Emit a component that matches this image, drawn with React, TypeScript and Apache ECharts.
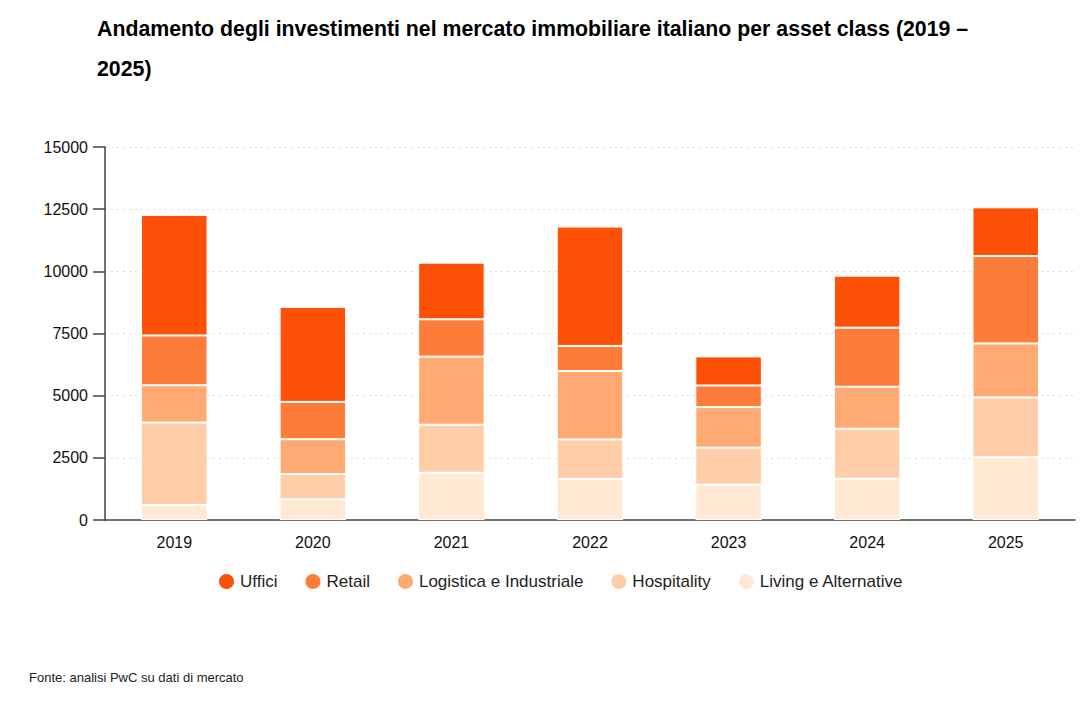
import React, { useEffect, useRef } from "react";
import * as echarts from "echarts";

const years = ["2019", "2020", "2021", "2022", "2023", "2024", "2025"];
const seriesNames = ["Uffici", "Retail", "Logistica e Industriale", "Hospitality", "Living e Alternative"];
const living = [600, 830, 1900, 1650, 1420, 1660, 2520];
const hospitality = [3320, 1020, 1930, 1590, 1490, 2010, 2410];
const logistica = [1500, 1400, 2740, 2750, 1630, 1690, 2170];
const retail = [2000, 1500, 1500, 1010, 870, 2375, 3515];
const uffici = [4850, 3820, 2280, 4800, 1170, 2090, 1960];
const colors = ["#FD5108", "#FE7C39", "#FFAA72", "#FFCDA8", "#FFE8D4"];

const FONT = "'Liberation Sans', Arial, Helvetica, sans-serif";

export default function App() {
  const ref = useRef<HTMLDivElement>(null);
  useEffect(() => {
    if (!ref.current) return;
    const chart = echarts.init(ref.current, undefined, { renderer: "svg" });
    const dataByName: Record<string, number[]> = {
      "Uffici": uffici,
      "Retail": retail,
      "Logistica e Industriale": logistica,
      "Hospitality": hospitality,
      "Living e Alternative": living,
    };
    const stackOrder = ["Living e Alternative", "Hospitality", "Logistica e Industriale", "Retail", "Uffici"];
    const series = stackOrder.map((name) => ({
      name,
      type: "bar",
      stack: "total",
      barWidth: "48%",
      data: dataByName[name],
      itemStyle: {
        color: colors[seriesNames.indexOf(name)],
        borderColor: "#ffffff",
        borderWidth: 1,
      },
    }));
    chart.setOption({
      animation: false,
      textStyle: { fontFamily: FONT },
      title: [
        {
          text: "Andamento degli investimenti nel mercato immobiliare italiano per asset class (2019 –\n2025)",
          left: 97,
          top: 9,
          padding: 0,
          textStyle: {
            fontFamily: FONT,
            fontSize: 21.3,
            fontWeight: "bold",
            color: "#000000",
            lineHeight: 40,
          },
        },
        {
          text: "Fonte: analisi PwC su dati di mercato",
          left: 29,
          top: 671,
          padding: 0,
          textStyle: { fontFamily: FONT, fontSize: 13, fontWeight: "normal", color: "#222222" },
        },
      ],
      legend: {
        data: seriesNames,
        top: 572,
        left: 217,
        padding: 0,
        icon: "circle",
        itemWidth: 17,
        itemHeight: 17,
        itemGap: 26,
        textStyle: { fontFamily: FONT, fontSize: 17, color: "#222222" },
      },
      grid: { left: 105, right: 9, top: 147, bottom: 185, containLabel: false },
      xAxis: {
        type: "category",
        data: years,
        axisLine: { lineStyle: { color: "#444444", width: 1.5 } },
        axisTick: { show: false },
        axisLabel: { fontFamily: FONT, fontSize: 16, color: "#111111", margin: 14 },
      },
      yAxis: {
        type: "value",
        min: 0,
        max: 15000,
        interval: 2500,
        axisLine: { show: true, lineStyle: { color: "#444444", width: 1.5 } },
        axisTick: { show: true, length: 12, lineStyle: { color: "#444444", width: 1.5 } },
        axisLabel: {
          fontFamily: FONT,
          fontSize: 16,
          color: "#111111",
          margin: 17,
          formatter: (v: number) => String(v),
        },
        splitLine: { show: true, lineStyle: { color: "#dddddd", type: [2, 4], width: 1 } },
      },
      series,
    });
    return () => chart.dispose();
  }, []);
  return (
    <div
      ref={ref}
      style={{ position: "absolute", left: 0, top: 0, width: 1084, height: 705 }}
    />
  );
}
